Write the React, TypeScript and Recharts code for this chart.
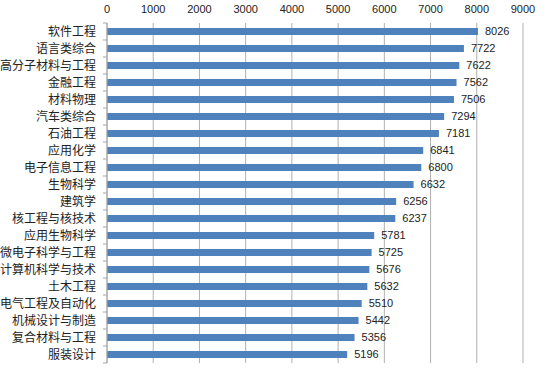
import { BarChart, Bar, XAxis, YAxis, CartesianGrid, LabelList } from "recharts"

// 专业名称
const majors = [
    "软件工程",
    "语言类综合",
    "高分子材料与工程",
    "金融工程",
    "材料物理",
    "汽车类综合",
    "石油工程",
    "应用化学",
    "电子信息工程",
    "生物科学",
    "建筑学",
    "核工程与核技术",
    "应用生物科学",
    "微电子科学与工程",
    "计算机科学与技术",
    "土木工程",
    "电气工程及自动化",
    "机械设计与制造",
    "复合材料与工程",
    "服装设计",
]

// 薪资数值
const salaries = [8026, 7722, 7622, 7562, 7506, 7294, 7181, 6841, 6800, 6632, 6256, 6237, 5781, 5725, 5676, 5632, 5510, 5442, 5356, 5196]

const xTicks = [0, 1000, 2000, 3000, 4000, 5000, 6000, 7000, 8000, 9000]

const chartData = majors.map((name, i) => ({ name, value: salaries[i] }))

const CHART_H = 377
const MARGIN_TOP = 0
const X_AXIS_H = 23
const MARGIN_BOTTOM = 14
const band = (CHART_H - MARGIN_TOP - X_AXIS_H - MARGIN_BOTTOM) / majors.length

// 类目轴刻度：文字 + 类目边界处的小刻度线
function CategoryTick(props: any) {
    const { x, y, payload, index } = props
    const axisX = x + 11
    return (
        <g>
            <text
                x={x}
                y={y}
                dy="0.35em"
                textAnchor="end"
                fontSize={12}
                fill="#222"
                fontFamily="Noto Sans CJK SC, sans-serif"
            >
                {payload.value}
            </text>
            <line x1={axisX - 4} x2={axisX} y1={y - band / 2} y2={y - band / 2} stroke="#a6a6a6" />
            {index === majors.length - 1 && (
                <line x1={axisX - 4} x2={axisX} y1={y + band / 2} y2={y + band / 2} stroke="#a6a6a6" />
            )}
        </g>
    )
}

export default function App() {
    return (
        <div style={{ position: "absolute", left: 0, top: 0, width: 554, height: CHART_H, background: "#fff" }}>
            <BarChart
                width={554}
                height={CHART_H}
                data={chartData}
                layout="vertical"
                margin={{ top: MARGIN_TOP, right: 31, bottom: MARGIN_BOTTOM, left: 0 }}
            >
                <CartesianGrid horizontal={false} stroke="#b0b0b0" />
                <XAxis
                    type="number"
                    orientation="top"
                    domain={[0, 9000]}
                    ticks={xTicks}
                    height={X_AXIS_H}
                    axisLine={false}
                    tickLine={false}
                    tickSize={6}
                    tickMargin={4}
                    interval={0}
                    tick={{ fontSize: 11, fill: "#222", fontFamily: "Liberation Sans, sans-serif" }}
                />
                <YAxis
                    type="category"
                    dataKey="name"
                    width={107}
                    interval={0}
                    stroke="#a6a6a6"
                    tickLine={false}
                    tickSize={5}
                    tickMargin={6}
                    tick={<CategoryTick />}
                />
                <Bar dataKey="value" fill="#4f81bd" barSize={7} isAnimationActive={false}>
                    <LabelList
                        dataKey="value"
                        position="right"
                        offset={7}
                        style={{ fontSize: 11, fill: "#222", fontFamily: "Liberation Sans, sans-serif" }}
                    />
                </Bar>
            </BarChart>
        </div>
    )
}
